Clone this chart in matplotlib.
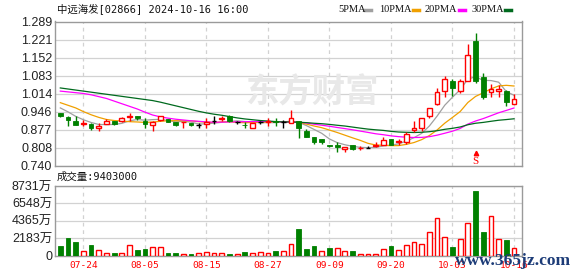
import matplotlib
matplotlib.use('Agg')
import matplotlib.pyplot as plt
import numpy as np
import pandas as pd
from matplotlib.lines import Line2D

# ---------------- data ----------------
opens = [0.940, 0.924, 0.909, 0.900, 0.900, 0.882, 0.897, 0.909, 0.909, 0.925,
         0.929, 0.909, 0.895, 0.915, 0.918, 0.906, 0.905, 0.903, 0.894, 0.897,
         0.909, 0.918, 0.931, 0.905, 0.895, 0.883, 0.905, 0.906, 0.912, 0.905,
         0.904, 0.910, 0.872, 0.848, 0.842, 0.819, 0.819, 0.803, 0.819, 0.807,
         0.809, 0.814, 0.820, 0.841, 0.831, 0.832, 0.875, 0.883, 0.931, 0.974,
         1.025, 1.063, 1.025, 1.064, 1.215, 1.076, 1.022, 1.023, 1.025, 0.974]
highs = [0.941, 0.928, 0.928, 0.914, 0.902, 0.901, 0.919, 0.910, 0.925, 0.939,
         0.930, 0.920, 0.909, 0.931, 0.919, 0.907, 0.906, 0.904, 0.903, 0.921,
         0.928, 0.929, 0.933, 0.909, 0.905, 0.904, 0.910, 0.921, 0.921, 0.914,
         0.952, 0.912, 0.880, 0.849, 0.843, 0.820, 0.832, 0.811, 0.820, 0.815,
         0.815, 0.830, 0.849, 0.843, 0.841, 0.870, 0.910, 0.922, 0.960, 1.037,
         1.082, 1.070, 1.070, 1.203, 1.247, 1.092, 1.051, 1.048, 1.030, 1.012]
lows = [0.925, 0.893, 0.894, 0.893, 0.876, 0.874, 0.897, 0.895, 0.908, 0.912,
        0.915, 0.882, 0.874, 0.912, 0.905, 0.893, 0.882, 0.893, 0.882, 0.883,
        0.898, 0.911, 0.908, 0.897, 0.882, 0.883, 0.898, 0.893, 0.893, 0.882,
        0.903, 0.844, 0.849, 0.823, 0.822, 0.813, 0.791, 0.794, 0.800, 0.798,
        0.806, 0.811, 0.820, 0.817, 0.818, 0.823, 0.867, 0.874, 0.923, 0.973,
        1.003, 1.007, 1.018, 1.064, 1.054, 0.994, 1.003, 1.001, 0.966, 0.974]
closes = [0.931, 0.914, 0.894, 0.902, 0.882, 0.893, 0.911, 0.897, 0.923, 0.929,
          0.920, 0.897, 0.908, 0.929, 0.906, 0.894, 0.906, 0.894, 0.894, 0.908,
          0.909, 0.921, 0.911, 0.905, 0.894, 0.904, 0.905, 0.912, 0.905, 0.905,
          0.921, 0.882, 0.851, 0.832, 0.830, 0.814, 0.813, 0.810, 0.803, 0.809,
          0.809, 0.817, 0.839, 0.818, 0.833, 0.861, 0.883, 0.921, 0.959, 1.020,
          1.069, 1.035, 1.063, 1.162, 1.064, 1.000, 1.032, 1.032, 0.983, 0.994]
# volume in 万 shares
volumes = [1180, 2194, 1688, 549, 1308, 675, 295, 295, 295, 1308,
           675, 800, 1010, 1010, 295, 295, 170, 170, 295, 420,
           295, 295, 170, 170, 420, 295, 420, 295, 549, 549,
           1435, 3334, 800, 1180, 549, 928, 928, 549, 549, 170,
           170, 170, 760, 1180, 633, 1308, 1688, 1435, 2954, 4684,
           2321, 1055, 2068, 4093, 8144, 2954, 4980, 2068, 1941, 940]
vol_up = [0, 0, 0, 1, 0, 1, 1, 0, 1, 1, 0, 0, 1, 1, 0, 0, 1, 0, 1, 1,
          1, 1, 0, 1, 0, 1, 1, 1, 0, 1, 1, 0, 0, 0, 1, 0, 1, 1, 0, 1,
          1, 1, 1, 0, 1, 1, 1, 1, 1, 1, 1, 0, 1, 1, 0, 0, 1, 1, 0, 1]
# moving-average values before enough history is visible
ma5_head = [0.960, 0.945, 0.928, 0.915]
ma10_head = [0.980, 0.970, 0.960, 0.946, 0.934, 0.924, 0.916, 0.912, 0.910]
ma20_head = [1.024, 1.021, 1.018, 1.015, 1.010, 1.003, 0.996, 0.986, 0.976, 0.966,
             0.956, 0.944, 0.933, 0.926, 0.921, 0.917, 0.914, 0.911, 0.909]
ma30_head = [1.036, 1.032, 1.028, 1.024, 1.020, 1.016, 1.012, 1.008, 1.004, 1.000,
             0.996, 0.992, 0.988, 0.982, 0.975, 0.968, 0.961, 0.954, 0.947, 0.941,
             0.936, 0.932, 0.927, 0.922, 0.918, 0.915, 0.912, 0.910, 0.908]

date_tick_idx = [3, 11, 19, 27, 35, 43, 51, 59]
date_tick_labels = ['07-24', '08-05', '08-15', '08-27', '09-09', '09-20', '10-03', '10-16']
price_ticks = [0.740, 0.8086, 0.8773, 0.9459, 1.0145, 1.0831, 1.1518, 1.2204, 1.289]
price_tick_labels = ['0.740', '0.808', '0.877', '0.946', '1.014', '1.083', '1.152', '1.221', '1.289']
vol_ticks = [0, 2183, 4365, 6548, 8731]
vol_tick_labels = ['0', '2183万', '4365万', '6548万', '8731万']
signal_idx = [54]
signal_labels = ['S']
title = '中远海发[02866] 2024-10-16 16:00'
vol_title = '成交量:9403000'
ma_names = ['5PMA', '10PMA', '20PMA', '30PMA']

# ---------------- styling ----------------
RED = '#ff0000'
GREEN = '#008000'
MA_COLORS = ['#a0a0a0', '#f0a000', '#ff00ff', '#006a1e']
GRID = '#d2d2d2'
FRAME = '#9a9a9a'
W, H = 578, 276

plt.rcParams['font.family'] = ['Liberation Sans', 'Noto Sans CJK SC', 'DejaVu Sans']

o = np.array(opens); h = np.array(highs); l = np.array(lows); c = np.array(closes)
v = np.array(volumes); vu = np.array(vol_up).astype(bool)
n = len(c)
x = np.arange(n)


def ma(vals, k, head):
    s = pd.Series(vals).rolling(k).mean().to_numpy()
    s[:k - 1] = head
    return s

mas = [ma(c, 5, ma5_head), ma(c, 10, ma10_head), ma(c, 20, ma20_head), ma(c, 30, ma30_head)]

fig = plt.figure(figsize=(W / 100, H / 100), dpi=100)
fig.patch.set_facecolor('white')

def fx(px):
    return px / W

def fy(py):
    return 1 - py / H

axp = fig.add_axes([fx(55), fy(165.7), fx(522) - fx(55), fy(21.5) - fy(165.7)])
axv = fig.add_axes([fx(55), fy(255.5), fx(522) - fx(55), fy(186) - fy(255.5)])

xlim = (-0.69, 60.04)

# watermark
fig.text(fx(312), fy(93), '东方财富', fontsize=24, color='#e8e8e8', fontweight='bold',
         ha='center', va='center', family=['Noto Sans CJK SC'], zorder=0)

for ax in (axp, axv):
    ax.set_xlim(*xlim)
    ax.set_facecolor('none')
    for s in ax.spines.values():
        s.set_color(FRAME)
        s.set_linewidth(1.0)
    ax.set_xticks(date_tick_idx)
    ax.tick_params(length=0)
    ax.grid(axis='y', color=GRID, lw=0.9, ls='-')
    ax.grid(axis='x', color=GRID, lw=0.9, ls=(0, (3, 3)))
    ax.set_axisbelow(True)

# ---- price panel ----
up = c > o
down = c < o
flat = c == o
wick_colors = np.where(up, RED, np.where(down, GREEN, 'black'))
for i in range(n):
    axp.plot([x[i], x[i]], [l[i], h[i]], color=wick_colors[i], lw=1.0, zorder=3,
             solid_capstyle='butt')
bw = 0.62
axp.bar(x[up], (c - o)[up], bottom=o[up], width=bw, facecolor='white', edgecolor=RED,
        lw=1.0, zorder=4)
axp.bar(x[down], (o - c)[down], bottom=c[down], width=bw, facecolor=GREEN, edgecolor=GREEN,
        lw=0.6, zorder=4)
axp.hlines(c[flat], x[flat] - bw / 2, x[flat] + bw / 2, colors='black', lw=1.0, zorder=4)

for m, col in zip(mas, MA_COLORS):
    axp.plot(x, m, color=col, lw=0.9, zorder=2.5)

axp.set_ylim(price_ticks[0], price_ticks[-1])
axp.set_yticks(price_ticks)
axp.set_yticklabels(price_tick_labels, fontsize=9, color='#222222')
axp.tick_params(axis='y', pad=2)
axp.set_xticklabels([])

for si, lab in zip(signal_idx, signal_labels):
    axp.plot(si, 0.7875, marker='^', color=RED, ms=3.2, zorder=5)
    axp.text(si, 0.757, lab, color=RED, fontsize=8, ha='center', va='center',
             family=['Liberation Serif'], zorder=5)

# ---- volume panel ----
axv.bar(x[vu], v[vu], width=bw, facecolor='white', edgecolor=RED, lw=1.0, zorder=3)
axv.bar(x[~vu], v[~vu], width=bw, facecolor=GREEN, edgecolor=GREEN, lw=0.6, zorder=3)
axv.set_ylim(vol_ticks[0], vol_ticks[-1])
axv.set_yticks(vol_ticks)
axv.set_yticklabels(vol_tick_labels, fontsize=9, color='#222222')
axv.tick_params(axis='y', pad=2)
axv.set_xticklabels(date_tick_labels, fontsize=6.8, color=RED, family=['DejaVu Sans Mono'])
axv.tick_params(axis='x', pad=4)

# ---- texts ----
fig.text(fx(57), fy(8.5), title, fontsize=7.5, color='#111111', va='center', ha='left',
         family=['DejaVu Sans Mono', 'Noto Sans CJK SC'])
fig.text(fx(57), fy(177), vol_title, fontsize=7.5, color='#111111', va='center', ha='left',
         family=['DejaVu Sans Mono', 'Noto Sans CJK SC'])

leg_x = [338, 379, 425, 471]
sw_x = [365, 413, 459, 505]
for name, col, lx, sx in zip(ma_names, MA_COLORS, leg_x, sw_x):
    fig.text(fx(lx), fy(9), name, fontsize=7.5, color='#111111', va='center', ha='left',
             family=['Liberation Serif'])
    fig.add_artist(Line2D([fx(sx), fx(sx + 6)], [fy(9.5), fy(9.5)], color=col, lw=2.5,
                          transform=fig.transFigure))

fig.text(fx(513), fy(261), 'www.365jz.com', fontsize=12.5, color='#1d3c78', fontweight='bold',
         ha='center', va='center', family=['Liberation Serif'], zorder=10)

fig.savefig('out.png', dpi=100, facecolor='white')
